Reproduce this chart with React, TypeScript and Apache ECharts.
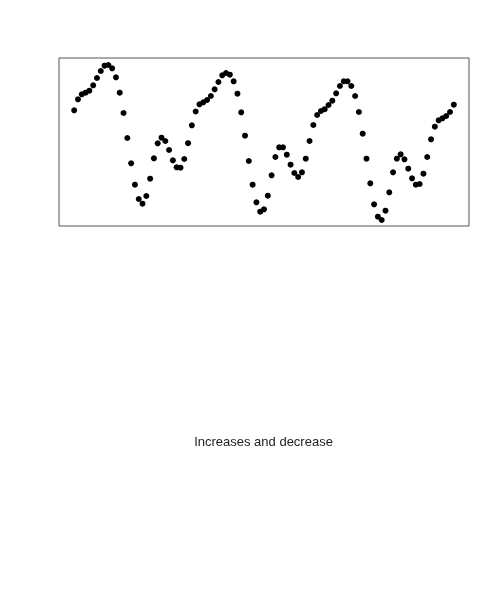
import React, { useEffect, useRef } from 'react';
import * as echarts from 'echarts';

// x positions 1..101 (plot units)
const seriesValues: number[] = [
  115.7, 126.7, 131.7, 133.3, 135.3, 140.7, 148, 155, 160.3, 161,
  157.7, 148.7, 133.3, 113, 88, 62.7, 41.3, 27, 22.3, 30,
  47.3, 67.7, 82.7, 88.3, 85, 76, 65.7, 58.7, 58.3, 67,
  82.8, 100.7, 114.5, 121.7, 123.7, 126, 130, 136.7, 144, 150.7,
  153, 151.3, 144.7, 132.3, 113.7, 90.3, 65, 41.3, 23.7, 14.3,
  16.7, 30.3, 50.7, 69, 78.7, 78.7, 71.3, 61.3, 53, 49,
  53.7, 67.3, 85, 101, 111, 115, 116.8, 121, 125.3, 132.7,
  140, 144.7, 144.7, 140, 130, 114, 92.3, 67.3, 42.7, 21.7,
  9.3, 6, 15.3, 33.7, 53.7, 67.3, 71.7, 66.7, 57.3, 47.7,
  41.3, 42, 52.3, 69, 86.7, 99.3, 105.7, 107.7, 110, 114,
  121.3,
];
const xIndex: number[] = seriesValues.map((_, i) => i + 1);
const caption = 'Increases and decrease';

const App: React.FC = () => {
  const chartRef = useRef<HTMLDivElement>(null);

  useEffect(() => {
    if (!chartRef.current) return;
    const chart = echarts.init(chartRef.current, undefined, { renderer: 'svg' });

    const hidden = {
      axisLine: { show: false },
      axisTick: { show: false },
      axisLabel: { show: false },
      splitLine: { show: false },
    };

    chart.setOption({
      animation: false,
      grid: {
        left: 59,
        top: 58,
        width: 410,
        height: 168,
        show: true,
        borderColor: '#555',
        borderWidth: 1,
        backgroundColor: 'transparent',
      },
      xAxis: { type: 'value', min: -3, max: 105, ...hidden },
      yAxis: { type: 'value', min: 0, max: 168, ...hidden },
      series: [
        {
          type: 'scatter',
          symbol: 'circle',
          symbolSize: 6,
          itemStyle: { color: '#000', opacity: 1 },
          data: xIndex.map((x, i) => [x, seriesValues[i]]),
        },
      ],
      graphic: [
        {
          type: 'text',
          x: 263.5,
          y: 441,
          style: {
            text: caption,
            fill: '#222',
            font: '13px "Liberation Sans", Arial, sans-serif',
            textAlign: 'center',
            textVerticalAlign: 'middle',
          },
        },
      ],
    });

    return () => {
      chart.dispose();
    };
  }, []);

  return (
    <div
      ref={chartRef}
      style={{ position: 'fixed', left: 0, top: 0, width: 500, height: 600 }}
    />
  );
};

export default App;
